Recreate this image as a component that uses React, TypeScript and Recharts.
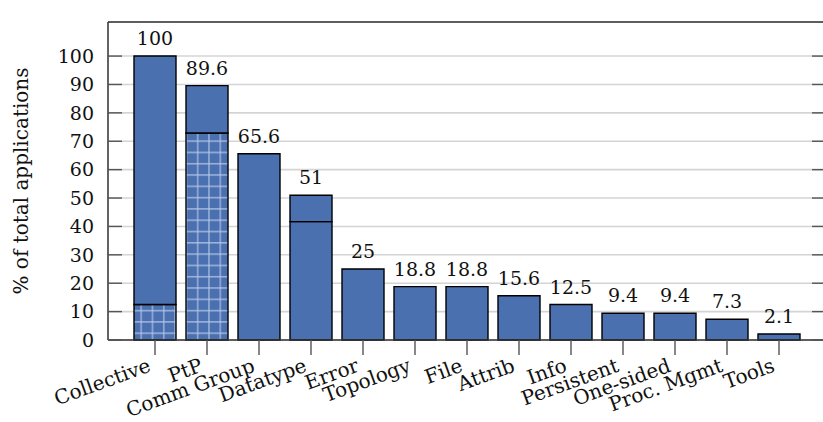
import React from "react";
import { BarChart, Bar, XAxis, YAxis, CartesianGrid, LabelList } from "recharts";

const categories = [
  "Collective",
  "PtP",
  "Comm Group",
  "Datatype",
  "Error",
  "Topology",
  "File",
  "Attrib",
  "Info",
  "Persistent",
  "One-sided",
  "Proc. Mgmt",
  "Tools",
];

const totals = [100, 89.6, 65.6, 51, 25, 18.8, 18.8, 15.6, 12.5, 9.4, 9.4, 7.3, 2.1];

// hatched (cross-grid) share at the bottom of a bar
const hatchedPart = [12.5, 72.9, 0, 0, 0, 0, 0, 0, 0, 0, 0, 0, 0];
// plain lower segment
const lowerPart = [0, 0, 65.6, 41.7, 25, 18.8, 18.8, 15.6, 12.5, 9.4, 9.4, 7.3, 2.1];
// plain upper segment stacked on top
const upperPart = [87.5, 16.7, 0, 9.3, 0, 0, 0, 0, 0, 0, 0, 0, 0];

const yTicks = [0, 10, 20, 30, 40, 50, 60, 70, 80, 90, 100];

const FONT = "'DejaVu Serif', serif";
const BLUE = "#4a70b0";

type Seg = "hatched" | "lower" | "upper";

const data = categories.map((name, i) => ({
  name,
  hatched: hatchedPart[i],
  lower: lowerPart[i],
  upper: upperPart[i],
  total: totals[i],
  top: (upperPart[i] > 0 ? "upper" : lowerPart[i] > 0 ? "lower" : "hatched") as Seg,
}));

const PLOT_RIGHT = 826;

function YTick(props: any) {
  const { x, y, payload } = props;
  return (
    <g>
      <line x1={x + 14} x2={x + 28} y1={y} y2={y} stroke="#555" strokeWidth={1.4} />
      <line x1={PLOT_RIGHT - 14} x2={PLOT_RIGHT} y1={y} y2={y} stroke="#555" strokeWidth={1.4} />
      <text x={x} y={y} dy="0.36em" textAnchor="end" fontFamily={FONT} fontSize={19} fill="#111">
        {payload.value}
      </text>
    </g>
  );
}

function XTick(props: any) {
  const { x, y, payload } = props;
  return (
    <g transform={`translate(${x - 3},${y + 16}) rotate(-20)`}>
      <text x={0} y={0} textAnchor="end" fontFamily={FONT} fontSize={20} fill="#111">
        {payload.value}
      </text>
    </g>
  );
}

function TotalLabel(props: any) {
  const { x, y, width, value } = props;
  if (value == null) return null;
  return (
    <text
      x={x + width / 2}
      y={y - 11}
      textAnchor="middle"
      fontFamily={FONT}
      fontSize={19}
      fill="#111"
    >
      {value}
    </text>
  );
}

// total shown only on the segment that ends the bar
const totalIfTop = (seg: Seg) => (d: any) => (d.top === seg ? d.total : null);

export default function App() {
  return (
    <div
      style={{
        position: "fixed",
        left: 0,
        top: 0,
        width: 823,
        height: 422,
        overflow: "hidden",
        background: "#fff",
      }}
    >
      <BarChart
        width={PLOT_RIGHT}
        height={422}
        data={data}
        margin={{ top: 0, right: 0, bottom: 0, left: 0 }}
        barSize={42}
      >
        <defs>
          <pattern id="grid-hatch" width={11.3} height={11.3} patternUnits="userSpaceOnUse">
            <rect width={11.3} height={11.3} fill={BLUE} />
            <path d="M 5.6 0 V 11.3 M 0 5.6 H 11.3" stroke="#b8c8e8" strokeWidth={1.1} />
          </pattern>
        </defs>
        <CartesianGrid horizontal vertical={false} stroke="#d4d4d4" strokeWidth={1.6} />
        <XAxis
          xAxisId="top"
          orientation="top"
          dataKey="name"
          height={22}
          padding={{ left: 21, right: 21 }}
          tick={false}
          tickSize={16}
          axisLine={{ stroke: "#333", strokeWidth: 1.4 }}
          tickLine={{ stroke: "#444", strokeWidth: 1.4 }}
        />
        <XAxis
          dataKey="name"
          height={82}
          padding={{ left: 21, right: 21 }}
          interval={0}
          tickSize={15}
          tickMargin={0}
          tick={<XTick />}
          axisLine={{ stroke: "#333", strokeWidth: 1.4 }}
          tickLine={{ stroke: "#555", strokeWidth: 1.4 }}
        />
        <YAxis
          width={108}
          domain={[0, 112]}
          ticks={yTicks}
          interval={0}
          tickSize={0}
          tickMargin={14}
          tickLine={false}
          tick={<YTick />}
          axisLine={{ stroke: "#222", strokeWidth: 1.4 }}
          label={{
            content: (p: any) => {
              const vb = p.viewBox || { y: 22, height: 318 };
              const cy = vb.y + vb.height / 2;
              return (
                <text
                  x={28}
                  y={cy}
                  transform={`rotate(-90 28 ${cy})`}
                  textAnchor="middle"
                  fontFamily={FONT}
                  fontSize={20}
                  fill="#111"
                >
                  % of total applications
                </text>
              );
            },
          }}
        />
        <Bar dataKey="hatched" stackId="a" fill="url(#grid-hatch)" stroke="#000" strokeWidth={1.4} isAnimationActive={false}>
          <LabelList dataKey={totalIfTop("hatched")} content={<TotalLabel />} />
        </Bar>
        <Bar dataKey="lower" stackId="a" fill={BLUE} stroke="#000" strokeWidth={1.4} isAnimationActive={false}>
          <LabelList dataKey={totalIfTop("lower")} content={<TotalLabel />} />
        </Bar>
        <Bar dataKey="upper" stackId="a" fill={BLUE} stroke="#000" strokeWidth={1.4} isAnimationActive={false}>
          <LabelList dataKey={totalIfTop("upper")} content={<TotalLabel />} />
        </Bar>
      </BarChart>
    </div>
  );
}
